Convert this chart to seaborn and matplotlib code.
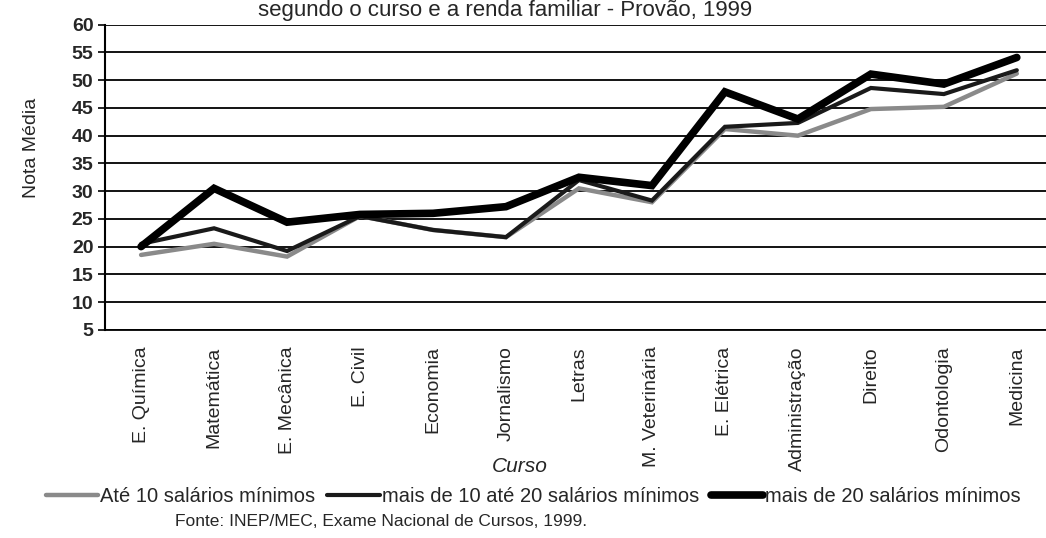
import pandas as pd
import matplotlib.pyplot as plt
import seaborn as sns

# ==========================================
# DATA
# ==========================================

cursos = [
    "E. Química", "Matemática", "E. Mecânica", "E. Civil", "Economia",
    "Jornalismo", "Letras", "M. Veterinária", "E. Elétrica",
    "Administração", "Direito", "Odontologia", "Medicina",
]

ate_10 = [18.5, 20.5, 18.2, 25.5, 23.0, 21.7, 30.5, 28.0, 41.2, 40.0, 44.8, 45.2, 51.2]
de_10_a_20 = [20.5, 23.3, 19.2, 25.5, 23.0, 21.7, 32.0, 28.3, 41.6, 42.3, 48.6, 47.5, 51.8]
mais_20 = [20.0, 30.5, 24.4, 25.8, 26.0, 27.2, 32.5, 31.0, 47.9, 43.0, 51.1, 49.3, 54.1]

series_names = [
    "Até 10 salários mínimos",
    "mais de 10 até 20 salários mínimos",
    "mais de 20 salários mínimos",
]

y_ticks = list(range(5, 61, 5))

df = pd.DataFrame({
    "Curso": list(range(len(cursos))) * 3,
    "Nota": ate_10 + de_10_a_20 + mais_20,
    "Renda": [series_names[0]] * len(cursos)
    + [series_names[1]] * len(cursos)
    + [series_names[2]] * len(cursos),
})

# ==========================================
# PLOT
# ==========================================

sns.set_style("white")
plt.rcParams["font.family"] = ["Liberation Sans", "DejaVu Sans"]

fig = plt.figure(figsize=(10.46, 5.38), dpi=100)
ax = fig.add_axes([0.100, 0.387, 0.900, 0.567])

styles = {
    series_names[0]: dict(color="#8a8a8a", linewidth=3.2),
    series_names[1]: dict(color="#1a1a1a", linewidth=3.0),
    series_names[2]: dict(color="black", linewidth=5.5),
}

for name in series_names:
    sns.lineplot(
        data=df[df["Renda"] == name],
        x="Curso",
        y="Nota",
        ax=ax,
        label=name,
        solid_joinstyle="miter",
        **styles[name]
    )

ax.set_ylim(5, 60)
ax.set_yticks(y_ticks)
ax.set_yticklabels([str(v) for v in y_ticks], fontsize=14, fontweight="bold")
ax.yaxis.grid(True, color="black", linewidth=1.3)
ax.set_axisbelow(True)

ax.set_xlim(-0.5, 12.4)
ax.set_xticks(range(len(cursos)))
ax.set_xticklabels(cursos, rotation=90, fontsize=14, va="top")
ax.set_xticks([i + 0.5 for i in range(len(cursos) - 1)], minor=True)
ax.tick_params(axis="x", which="major", length=0, pad=12)
ax.tick_params(axis="x", which="minor", length=5, width=1.2, color="black", direction="out")
ax.tick_params(axis="y", length=5, width=1.2, color="black", direction="out", left=True, pad=3)

for side in ["top", "right"]:
    ax.spines[side].set_visible(False)
ax.spines["left"].set_color("black")
ax.spines["left"].set_linewidth(1.5)
ax.spines["bottom"].set_color("black")
ax.spines["bottom"].set_linewidth(1.3)

ax.set_xlabel("")
ax.set_ylabel("")
ax.get_legend().remove()

fig.text(0.483, 1.0, "segundo o curso e a renda familiar - Provão, 1999",
         ha="center", va="top", fontsize=16)
fig.text(0.030, 1 - 148 / 538, "Nota Média", rotation=90, ha="center", va="center",
         fontsize=14)
fig.text(0.497, 1 - 466 / 538, "Curso", ha="center", va="center", fontsize=15,
         style="italic")

handles, labels = ax.get_legend_handles_labels()
fig.legend(
    handles, labels,
    loc="center", bbox_to_anchor=(0.51, 1 - 497 / 538),
    ncol=3, frameon=False, handlelength=2.6, handletextpad=0.1,
    columnspacing=0.6, prop={"size": 14.5},
)

fig.text(0.167, 1 - 521 / 538, "Fonte: INEP/MEC, Exame Nacional de Cursos, 1999.",
         ha="left", va="center", fontsize=12.5)

plt.savefig("out.png", dpi=100)
plt.close()
